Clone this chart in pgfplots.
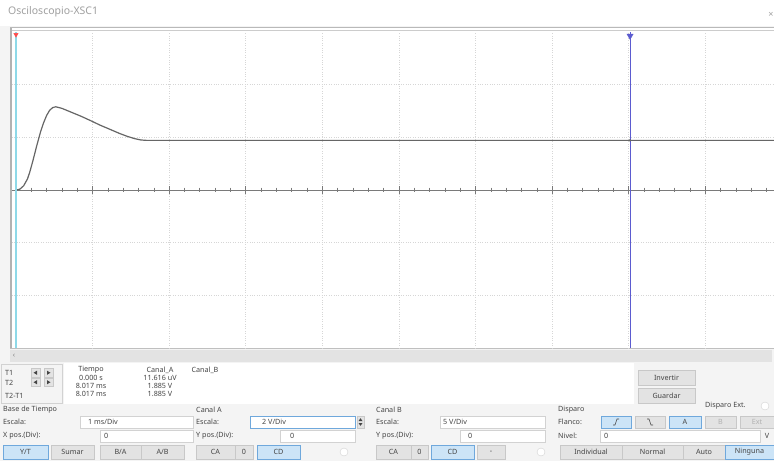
\documentclass[border=0pt]{standalone}
\usepackage{pgfplots}
\pgfplotsset{compat=1.18}
\usepackage{fontspec}
\setmainfont{Noto Sans}

\definecolor{winbg}{HTML}{F4F4F4}
\definecolor{btnfill}{HTML}{E3E3E3}
\definecolor{btnedge}{HTML}{C8C8C8}
\definecolor{hifill}{HTML}{CCE4F7}
\definecolor{hiedge}{HTML}{6FA8DC}
\definecolor{guitext}{HTML}{454545}
\definecolor{titletext}{HTML}{A0A0A0}
\definecolor{trace}{HTML}{666666}
\definecolor{gridc}{HTML}{D6D6D6}
\definecolor{axisc}{HTML}{7A7A7A}
\definecolor{curA}{HTML}{8ED9E8}
\definecolor{curB}{HTML}{5B5BD0}
\definecolor{boxedge}{HTML}{D2D2D2}

\tikzset{
  gui/.style={font=\fontsize{7.2}{8}\selectfont, text=guitext, inner sep=0pt},
  btn/.style={draw=btnedge, fill=btnfill, line width=0.6pt},
  hbtn/.style={draw=hiedge, fill=hifill, line width=0.8pt},
  tbox/.style={draw=boxedge, fill=white, line width=0.6pt},
}

\begin{document}
\begin{tikzpicture}
\begin{scope}[x=1pt, y=-1pt]
  % window background and title bar
  \fill[winbg] (0,0) rectangle (774,461);
  \fill[white] (0,0) rectangle (774,26);
  \node[anchor=west, font=\fontsize{10.5}{12}\selectfont, text=titletext, inner sep=0pt] at (8,12) {Osciloscopio-XSC1};
  \node[font=\fontsize{9}{10}\selectfont, text=titletext, inner sep=0pt] at (771,15) {×};
  % screen frame
  \fill[white] (10,27) rectangle (774,349);
  \draw[gray!55, line width=0.8pt] (10,27.5) -- (774,27.5);
  \draw[gray!40, line width=0.8pt] (10,30.5) -- (774,30.5);
  \fill[gray!60] (9.5,28) rectangle (12,349);
  \draw[gray!50, line width=0.8pt] (10,348.5) -- (774,348.5);
  % scroll bar
  \fill[gray!22] (10,350) rectangle (772,362);
  \node[gui, text=gray] at (14,356) {‹};
  % readout panel
  \draw[boxedge, fill=winbg] (1.5,364) rectangle (62,403);
  \fill[white] (64,363) rectangle (634,404);
  \node[gui, anchor=west] at (5,373) {T1};
  \node[gui, anchor=west] at (5,382.5) {T2};
  \node[gui, anchor=west] at (5,396) {T2-T1};
  \foreach \yy in {368.5,378} {
    \draw[btn] (31,\yy) rectangle (40,\yy+8.5);
    \draw[btn] (44,\yy) rectangle (53,\yy+8.5);
    \fill[guitext] (33.5,\yy+4.25) -- (37,\yy+2.2) -- (37,\yy+6.3) -- cycle;
    \fill[guitext] (50.5,\yy+4.25) -- (47,\yy+2.2) -- (47,\yy+6.3) -- cycle;
  }
  \node[gui] at (91,370) {Tiempo};
  \node[gui] at (91,378) {0.000 s};
  \node[gui] at (91,386) {8.017 ms};
  \node[gui] at (91,394) {8.017 ms};
  \node[gui] at (160,370) {Canal\_A};
  \node[gui] at (160,378) {11.616 uV};
  \node[gui] at (160,386) {1.885 V};
  \node[gui] at (160,394) {1.885 V};
  \node[gui] at (205,370) {Canal\_B};
  % right-hand buttons
  \draw[btn] (638,370) rectangle (695,385);
  \node[gui] at (666.5,377.5) {Invertir};
  \draw[btn] (638,388) rectangle (695,403);
  \node[gui] at (666.5,395.5) {Guardar};
  \node[gui, anchor=west] at (705,406) {Disparo Ext.};
  \draw[boxedge, fill=white] (765,406) circle (4);

  % time base group
  \node[gui, anchor=west] at (3,410) {Base de Tiempo};
  \node[gui, anchor=west] at (3,422) {Escala:};
  \draw[tbox] (80,416) rectangle (193,428);
  \node[gui, anchor=west] at (88,422) {1 ms/Div};
  \node[gui, anchor=west] at (3,436) {X pos.(Div):};
  \draw[tbox] (100,430) rectangle (193,442);
  \node[gui, anchor=west] at (104,436) {0};
  \draw[hbtn] (3,445) rectangle (48,459);
  \node[gui] at (25.5,452) {Y/T};
  \draw[btn] (51,445) rectangle (94,459);
  \node[gui] at (72.5,452) {Sumar};
  \draw[btn] (100,445) rectangle (141,459);
  \node[gui] at (120.5,452) {B/A};
  \draw[btn] (141,445) rectangle (184,459);
  \node[gui] at (162.5,452) {A/B};

  % channel A group
  \node[gui, anchor=west] at (196,410) {Canal A};
  \node[gui, anchor=west] at (196,422) {Escala:};
  \draw[hiedge, fill=white, line width=0.6pt] (250,416) rectangle (355,428);
  \node[gui, anchor=west] at (262,422) {2 V/Div};
  \draw[btnedge, fill=btnfill] (357,416) rectangle (364,428);
  \fill[guitext] (358.5,421) -- (360.5,418.2) -- (362.5,421) -- cycle;
  \fill[guitext] (358.5,423) -- (360.5,425.8) -- (362.5,423) -- cycle;
  \node[gui, anchor=west] at (196,436) {Y pos.(Div):};
  \draw[tbox] (280,430) rectangle (355,442);
  \node[gui, anchor=west] at (290,436) {0};
  \draw[btn] (196,445) rectangle (235,459);
  \node[gui] at (215.5,452) {CA};
  \draw[btn] (235,445) rectangle (253,459);
  \node[gui] at (244,452) {0};
  \draw[hbtn] (257,445) rectangle (300,459);
  \node[gui] at (278.5,452) {CD};
  \draw[boxedge, fill=white] (344,452) circle (4);

  % channel B group
  \node[gui, anchor=west] at (376,410) {Canal B};
  \node[gui, anchor=west] at (376,422) {Escala:};
  \draw[tbox] (440,416) rectangle (545,428);
  \node[gui, anchor=west] at (443,422) {5 V/Div};
  \node[gui, anchor=west] at (376,436) {Y pos.(Div):};
  \draw[tbox] (460,430) rectangle (545,442);
  \node[gui, anchor=west] at (468,436) {0};
  \draw[btn] (376,445) rectangle (411,459);
  \node[gui] at (393.5,452) {CA};
  \draw[btn] (411,445) rectangle (428,459);
  \node[gui] at (419.5,452) {0};
  \draw[hbtn] (431,445) rectangle (474,459);
  \node[gui] at (452.5,452) {CD};
  \draw[btn] (477,445) rectangle (505,459);
  \node[gui] at (491,452) {-};
  \draw[boxedge, fill=white] (541,452) circle (4);

  % trigger group
  \node[gui, anchor=west] at (558,410) {Disparo};
  \node[gui, anchor=west] at (558,422) {Flanco:};
  \draw[hbtn] (601,416) rectangle (631,428);
  \draw[guitext, line width=0.6pt] (613,425) -- (615,425) -- (617,419) -- (619,419);
  \draw[btn] (635,416) rectangle (665,428);
  \draw[guitext, line width=0.6pt] (647,419) -- (649,419) -- (651,425) -- (653,425);
  \draw[hbtn] (669,416) rectangle (701,428);
  \node[gui] at (685,422) {A};
  \draw[btnedge, fill=btnfill, line width=0.6pt] (705,416) rectangle (736,428);
  \node[gui, text=gray!60] at (720.5,422) {B};
  \draw[btnedge, fill=btnfill, line width=0.6pt] (740,416) rectangle (774,428);
  \node[gui, text=gray!60] at (757,422) {Ext};
  \node[gui, anchor=west] at (558,436) {Nivel:};
  \draw[tbox] (600,430) rectangle (760,442);
  \node[gui, anchor=west] at (604,436) {0};
  \node[gui] at (767,436) {V};
  \draw[btn] (560,445) rectangle (622,459);
  \node[gui] at (591,452) {Individual};
  \draw[btn] (622,445) rectangle (683,459);
  \node[gui] at (652.5,452) {Normal};
  \draw[btn] (683,445) rectangle (725,459);
  \node[gui] at (704,452) {Auto};
  \draw[hbtn] (725,445) rectangle (774,459);
  \node[gui] at (749.5,452) {Ninguna};
\end{scope}

% oscilloscope screen: 1 ms/Div horizontally, 2 V/Div vertically
\begin{axis}[
  at={(12pt,-348pt)}, anchor=south west,
  width=762pt, height=316pt, scale only axis,
  xmin=-0.052, xmax=9.896, ymin=-6, ymax=6,
  axis line style={draw=none},
  xtick={1,2,3,4,5,6,7,8,9}, ytick={-4,-2,2,4},
  xticklabels={}, yticklabels={},
  major tick length=0pt,
  grid=major, major grid style={gridc, dotted, line width=0.6pt},
  clip=false,
]
  % centre graticule line with division ticks
  \addplot[axisc, line width=0.7pt] coordinates {(-0.05,0) (9.896,0)};
  \addplot[axisc, only marks, mark=|, mark size=2.3pt, mark options={line width=0.7pt}] coordinates {
    (0.2,0) (0.4,0) (0.6,0) (0.8,0) (1.2,0) (1.4,0) (1.6,0) (1.8,0)
    (2.2,0) (2.4,0) (2.6,0) (2.8,0) (3.2,0) (3.4,0) (3.6,0) (3.8,0)
    (4.2,0) (4.4,0) (4.6,0) (4.8,0) (5.2,0) (5.4,0) (5.6,0) (5.8,0)
    (6.2,0) (6.4,0) (6.6,0) (6.8,0) (7.2,0) (7.4,0) (7.6,0) (7.8,0)
    (8.2,0) (8.4,0) (8.6,0) (8.8,0) (9.2,0) (9.4,0) (9.6,0) (9.8,0)};
  \addplot[axisc, only marks, mark=|, mark size=3.8pt, mark options={line width=0.7pt}] coordinates {
    (1,0) (2,0) (3,0) (4,0) (5,0) (6,0) (7,0) (8,0) (9,0)};
  % channel A trace
  \addplot[trace, line width=1.2pt, line join=round] coordinates {
    (0,0) (0.05,0.03) (0.1,0.16) (0.15,0.42) (0.18,0.68) (0.22,1.1)
    (0.27,1.67) (0.32,2.2) (0.36,2.55) (0.40,2.83) (0.44,3.03) (0.48,3.13)
    (0.52,3.16) (0.60,3.10) (0.70,2.98) (0.85,2.80) (0.97,2.64) (1.10,2.46)
    (1.23,2.30) (1.35,2.15) (1.45,2.04) (1.55,1.95) (1.63,1.90) (1.70,1.885)
    (9.896,1.885)};
  % cursors T1 and T2
  \addplot[curA, line width=2pt] coordinates {(0,-6) (0,6)};
  \addplot[curB, line width=1pt] coordinates {(8.017,-6) (8.017,6)};
  \addplot[red!70, only marks, mark=triangle*, mark size=2.5pt, mark options={rotate=180}] coordinates {(0,5.9)};
  \addplot[curB, only marks, mark=triangle*, mark size=3.5pt, mark options={rotate=180}] coordinates {(8.017,5.85)};
  \addplot[trace, only marks, mark=*, mark size=1pt] coordinates {(8.017,1.885)};
\end{axis}
\pgfresetboundingbox
\path (0pt,0pt) rectangle (774pt,-461pt);
\end{tikzpicture}
\end{document}
